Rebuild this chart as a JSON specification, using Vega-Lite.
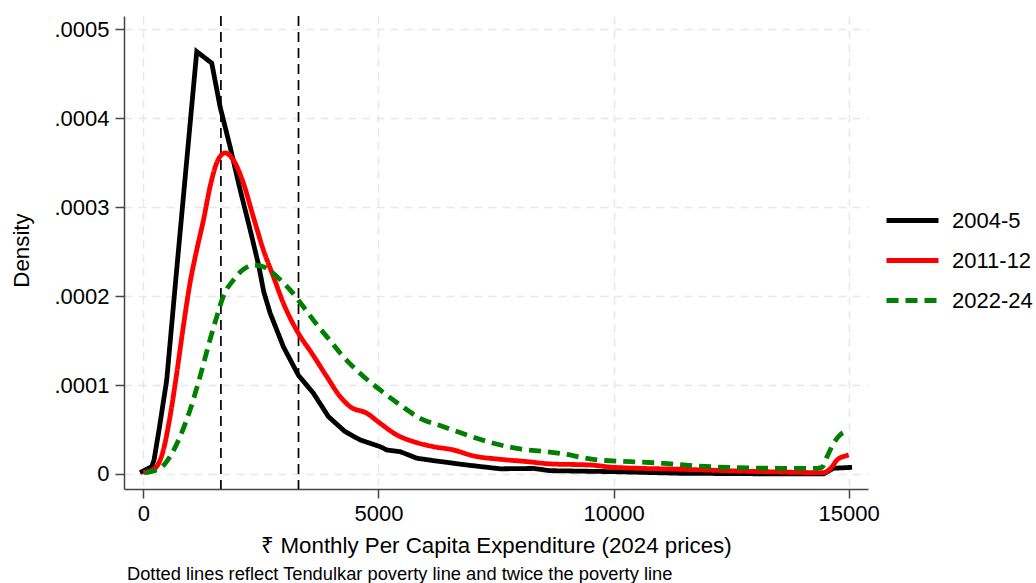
{
  "$schema": "https://vega.github.io/schema/vega-lite/v6.json",
  "width": 744,
  "height": 473,
  "autosize": "none",
  "padding": {"left": 124, "top": 16, "right": 168, "bottom": 94},
  "background": "white",
  "config": {
    "font": "Liberation Sans",
    "view": {"stroke": null},
    "axis": {
      "labelFont": "Liberation Sans",
      "titleFont": "Liberation Sans",
      "labelFontSize": 22,
      "titleFontSize": 22.3,
      "titleFontWeight": "normal",
      "labelColor": "#000000",
      "titleColor": "#000000",
      "tickSize": 9,
      "tickColor": "#444444",
      "tickWidth": 1.5,
      "domainColor": "#444444",
      "domainWidth": 1.5,
      "grid": true,
      "gridColor": "#e8e8e8",
      "gridDash": [8, 6],
      "gridWidth": 1.5,
      "labelOverlap": false,
      "labelFlush": false
    },
    "legend": {
      "labelFont": "Liberation Sans",
      "labelFontSize": 22,
      "labelColor": "#000000"
    },
    "title": {"font": "Liberation Sans"}
  },
  "title": {
    "text": "Dotted lines reflect Tendulkar poverty line and twice the poverty line",
    "orient": "bottom",
    "anchor": "start",
    "frame": "group",
    "fontSize": 18.3,
    "fontWeight": "normal",
    "color": "#000000",
    "offset": 10,
    "dx": 3
  },
  "datasets": {
    "povlines": [{"x": 1650}, {"x": 3300}],
    "curves": [
      {"series": "2004-5", "x": -70, "y": 0.0000015},
      {"series": "2004-5", "x": 179, "y": 0.0000082},
      {"series": "2004-5", "x": 228, "y": 0.0000158},
      {"series": "2004-5", "x": 334, "y": 0.0000495},
      {"series": "2004-5", "x": 498, "y": 0.0001058},
      {"series": "2004-5", "x": 689, "y": 0.000218},
      {"series": "2004-5", "x": 1136, "y": 0.000475},
      {"series": "2004-5", "x": 1455, "y": 0.000462},
      {"series": "2004-5", "x": 1632, "y": 0.000413},
      {"series": "2004-5", "x": 1845, "y": 0.000368},
      {"series": "2004-5", "x": 2057, "y": 0.00032},
      {"series": "2004-5", "x": 2270, "y": 0.000275},
      {"series": "2004-5", "x": 2451, "y": 0.000235},
      {"series": "2004-5", "x": 2560, "y": 0.000205},
      {"series": "2004-5", "x": 2696, "y": 0.000181},
      {"series": "2004-5", "x": 2979, "y": 0.000143},
      {"series": "2004-5", "x": 3298, "y": 0.000111},
      {"series": "2004-5", "x": 3617, "y": 0.0000908},
      {"series": "2004-5", "x": 3936, "y": 0.0000645},
      {"series": "2004-5", "x": 4291, "y": 0.0000476},
      {"series": "2004-5", "x": 4611, "y": 0.0000383},
      {"series": "2004-5", "x": 5036, "y": 0.0000307},
      {"series": "2004-5", "x": 5179, "y": 0.000027},
      {"series": "2004-5", "x": 5462, "y": 0.0000251},
      {"series": "2004-5", "x": 5817, "y": 0.0000177},
      {"series": "2004-5", "x": 6170, "y": 0.000015},
      {"series": "2004-5", "x": 6881, "y": 0.0000101},
      {"series": "2004-5", "x": 7589, "y": 0.0000058},
      {"series": "2004-5", "x": 8298, "y": 0.0000062},
      {"series": "2004-5", "x": 8653, "y": 0.0000037},
      {"series": "2004-5", "x": 10000, "y": 0.0000026},
      {"series": "2004-5", "x": 11419, "y": 0.0000008},
      {"series": "2004-5", "x": 13191, "y": 0.0000002},
      {"series": "2004-5", "x": 14468, "y": 0.0000002},
      {"series": "2004-5", "x": 14681, "y": 0.0000064},
      {"series": "2004-5", "x": 15072, "y": 0.0000075},
      {"series": "2011-12", "x": 0, "y": 0.0000015},
      {"series": "2011-12", "x": 249, "y": 0.0000064},
      {"series": "2011-12", "x": 426, "y": 0.000027},
      {"series": "2011-12", "x": 568, "y": 0.0000645},
      {"series": "2011-12", "x": 710, "y": 0.000113},
      {"series": "2011-12", "x": 851, "y": 0.000166},
      {"series": "2011-12", "x": 994, "y": 0.000215},
      {"series": "2011-12", "x": 1136, "y": 0.000252},
      {"series": "2011-12", "x": 1277, "y": 0.000285},
      {"series": "2011-12", "x": 1419, "y": 0.000323},
      {"series": "2011-12", "x": 1562, "y": 0.00035},
      {"series": "2011-12", "x": 1738, "y": 0.000361},
      {"series": "2011-12", "x": 1915, "y": 0.000353},
      {"series": "2011-12", "x": 2128, "y": 0.000327},
      {"series": "2011-12", "x": 2340, "y": 0.000289},
      {"series": "2011-12", "x": 2553, "y": 0.000252},
      {"series": "2011-12", "x": 2766, "y": 0.000222},
      {"series": "2011-12", "x": 2979, "y": 0.000192},
      {"series": "2011-12", "x": 3300, "y": 0.000158},
      {"series": "2011-12", "x": 3580, "y": 0.000136},
      {"series": "2011-12", "x": 3902, "y": 0.0001095},
      {"series": "2011-12", "x": 4185, "y": 0.000087},
      {"series": "2011-12", "x": 4398, "y": 0.0000757},
      {"series": "2011-12", "x": 4753, "y": 0.0000683},
      {"series": "2011-12", "x": 5036, "y": 0.000057},
      {"series": "2011-12", "x": 5391, "y": 0.0000439},
      {"series": "2011-12", "x": 5745, "y": 0.0000364},
      {"series": "2011-12", "x": 6170, "y": 0.0000307},
      {"series": "2011-12", "x": 6596, "y": 0.000027},
      {"series": "2011-12", "x": 7021, "y": 0.0000203},
      {"series": "2011-12", "x": 7589, "y": 0.0000165},
      {"series": "2011-12", "x": 8157, "y": 0.0000139},
      {"series": "2011-12", "x": 8653, "y": 0.0000113},
      {"series": "2011-12", "x": 9504, "y": 0.0000101},
      {"series": "2011-12", "x": 10000, "y": 0.0000075},
      {"series": "2011-12", "x": 11419, "y": 0.0000053},
      {"series": "2011-12", "x": 13191, "y": 0.0000026},
      {"series": "2011-12", "x": 14468, "y": 0.0000015},
      {"series": "2011-12", "x": 14647, "y": 0.0000082},
      {"series": "2011-12", "x": 14753, "y": 0.0000158},
      {"series": "2011-12", "x": 14930, "y": 0.0000203},
      {"series": "2011-12", "x": 15000, "y": 0.0000214},
      {"series": "2022-24", "x": 36, "y": 0.0000015},
      {"series": "2022-24", "x": 355, "y": 0.0000064},
      {"series": "2022-24", "x": 568, "y": 0.0000195},
      {"series": "2022-24", "x": 781, "y": 0.000042},
      {"series": "2022-24", "x": 994, "y": 0.000072},
      {"series": "2022-24", "x": 1206, "y": 0.0001095},
      {"series": "2022-24", "x": 1419, "y": 0.000151},
      {"series": "2022-24", "x": 1562, "y": 0.000177},
      {"series": "2022-24", "x": 1702, "y": 0.0002},
      {"series": "2022-24", "x": 1915, "y": 0.000218},
      {"series": "2022-24", "x": 2128, "y": 0.00023},
      {"series": "2022-24", "x": 2340, "y": 0.000235},
      {"series": "2022-24", "x": 2553, "y": 0.000233},
      {"series": "2022-24", "x": 2838, "y": 0.000222},
      {"series": "2022-24", "x": 3121, "y": 0.000207},
      {"series": "2022-24", "x": 3404, "y": 0.000188},
      {"series": "2022-24", "x": 3689, "y": 0.000168},
      {"series": "2022-24", "x": 3972, "y": 0.00015},
      {"series": "2022-24", "x": 4185, "y": 0.000136},
      {"series": "2022-24", "x": 4611, "y": 0.000113},
      {"series": "2022-24", "x": 5036, "y": 0.0000945},
      {"series": "2022-24", "x": 5462, "y": 0.0000776},
      {"series": "2022-24", "x": 5887, "y": 0.0000626},
      {"series": "2022-24", "x": 6383, "y": 0.0000532},
      {"series": "2022-24", "x": 6880, "y": 0.0000439},
      {"series": "2022-24", "x": 7447, "y": 0.0000345},
      {"series": "2022-24", "x": 8015, "y": 0.0000281},
      {"series": "2022-24", "x": 8583, "y": 0.0000251},
      {"series": "2022-24", "x": 8936, "y": 0.0000225},
      {"series": "2022-24", "x": 9647, "y": 0.0000158},
      {"series": "2022-24", "x": 10355, "y": 0.0000139},
      {"series": "2022-24", "x": 11064, "y": 0.000012},
      {"series": "2022-24", "x": 11774, "y": 0.000009},
      {"series": "2022-24", "x": 12626, "y": 0.0000071},
      {"series": "2022-24", "x": 13547, "y": 0.0000064},
      {"series": "2022-24", "x": 14328, "y": 0.0000064},
      {"series": "2022-24", "x": 14434, "y": 0.0000075},
      {"series": "2022-24", "x": 14540, "y": 0.0000195},
      {"series": "2022-24", "x": 14681, "y": 0.0000345},
      {"series": "2022-24", "x": 14860, "y": 0.0000458},
      {"series": "2022-24", "x": 14990, "y": 0.000048}
    ]
  },
  "encoding": {
    "x": {
      "field": "x",
      "type": "quantitative",
      "scale": {"domain": [-411, 15411], "nice": false, "zero": false},
      "axis": {
        "values": [0, 5000, 10000, 15000],
        "format": "d",
        "labelPadding": 5,
        "title": "₹ Monthly Per Capita Expenditure (2024 prices)",
        "titleBaseline": "alphabetic",
        "titleY": 63
      }
    }
  },
  "layer": [
    {
      "data": {"name": "povlines"},
      "mark": {"type": "rule", "color": "#000000", "strokeWidth": 1.7, "strokeDash": [10, 6]},
      "encoding": {}
    },
    {
      "data": {"name": "curves"},
      "transform": [{"filter": "datum.series == '2004-5'"}],
      "mark": {"type": "line", "strokeWidth": 4.8, "interpolate": "linear", "strokeJoin": "miter"},
      "encoding": {
        "y": {
          "field": "y",
          "type": "quantitative",
          "scale": {"domain": [-0.0000169, 0.000515], "nice": false, "zero": false},
          "axis": {
            "values": [0, 0.0001, 0.0002, 0.0003, 0.0004, 0.0005],
            "labelExpr": "datum.value == 0 ? '0' : slice(format(datum.value, '.4f'), 1)",
            "labelPadding": 6,
            "title": "Density",
            "titleAngle": -90,
            "titleX": -103,
            "titleY": 234,
            "titleAlign": "center",
            "titleBaseline": "middle"
          }
        },
        "color": {
          "field": "series",
          "type": "nominal",
          "scale": {"domain": ["2004-5", "2011-12", "2022-24"], "range": ["#000000", "#ff0000", "#008000"]},
          "legend": {
            "title": null,
            "orient": "none",
            "legendX": 760,
            "legendY": 176,
            "symbolType": "stroke",
            "symbolSize": 2704,
            "symbolStrokeWidth": 4.8,
            "labelOffset": 11,
            "rowPadding": -8
          }
        },
        "strokeDash": {
          "field": "series",
          "type": "nominal",
          "scale": {"domain": ["2004-5", "2011-12", "2022-24"], "range": [[1, 0], [1, 0], [12, 7]]},
          "legend": {
            "title": null,
            "orient": "none",
            "legendX": 760,
            "legendY": 176,
            "symbolType": "stroke",
            "symbolSize": 2704,
            "symbolStrokeWidth": 4.8,
            "labelOffset": 11,
            "rowPadding": -8
          }
        }
      }
    },
    {
      "data": {"name": "curves"},
      "transform": [{"filter": "datum.series != '2004-5'"}],
      "mark": {"type": "line", "strokeWidth": 4.8, "interpolate": "monotone"},
      "encoding": {
        "y": {
          "field": "y",
          "type": "quantitative",
          "scale": {"domain": [-0.0000169, 0.000515], "nice": false, "zero": false},
          "axis": {
            "values": [0, 0.0001, 0.0002, 0.0003, 0.0004, 0.0005],
            "labelExpr": "datum.value == 0 ? '0' : slice(format(datum.value, '.4f'), 1)",
            "labelPadding": 6,
            "title": "Density",
            "titleAngle": -90,
            "titleX": -103,
            "titleY": 234,
            "titleAlign": "center",
            "titleBaseline": "middle"
          }
        },
        "color": {
          "field": "series",
          "type": "nominal",
          "scale": {"domain": ["2004-5", "2011-12", "2022-24"], "range": ["#000000", "#ff0000", "#008000"]},
          "legend": {
            "title": null,
            "orient": "none",
            "legendX": 760,
            "legendY": 176,
            "symbolType": "stroke",
            "symbolSize": 2704,
            "symbolStrokeWidth": 4.8,
            "labelOffset": 11,
            "rowPadding": -8
          }
        },
        "strokeDash": {
          "field": "series",
          "type": "nominal",
          "scale": {"domain": ["2004-5", "2011-12", "2022-24"], "range": [[1, 0], [1, 0], [12, 7]]},
          "legend": {
            "title": null,
            "orient": "none",
            "legendX": 760,
            "legendY": 176,
            "symbolType": "stroke",
            "symbolSize": 2704,
            "symbolStrokeWidth": 4.8,
            "labelOffset": 11,
            "rowPadding": -8
          }
        }
      }
    }
  ]
}
